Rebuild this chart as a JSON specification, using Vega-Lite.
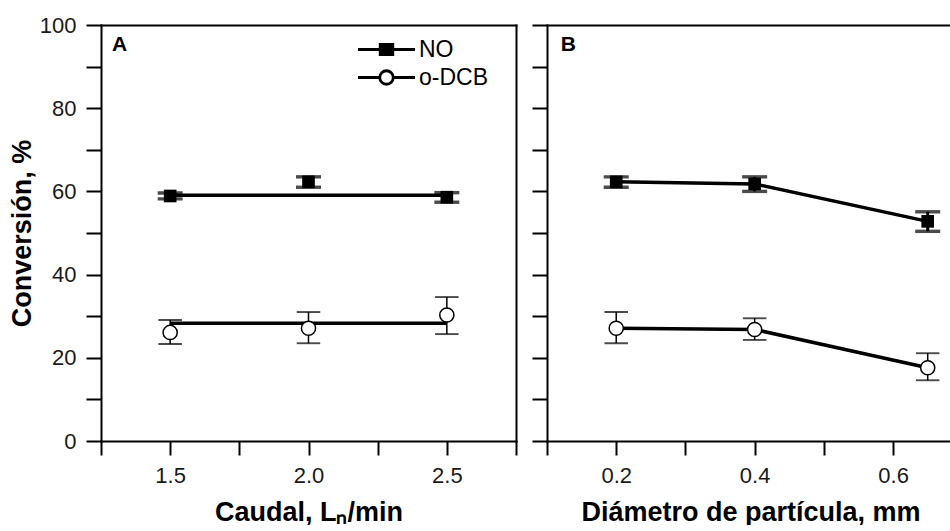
{
  "$schema": "https://vega.github.io/schema/vega-lite/v6.json",
  "padding": {"top": 14, "left": 8, "right": 0, "bottom": 0},
  "spacing": 14,
  "config": {
    "font": "Liberation Sans",
    "view": {"stroke": null},
    "axis": {
      "domainColor": "black", "domainWidth": 2, "domainCap": "square",
      "tickColor": "black", "tickWidth": 2,
      "labelColor": "#1a1a1a", "labelFont": "Liberation Sans", "labelFontSize": 22,
      "titleFont": "Liberation Sans", "titleFontSize": 27, "titleFontWeight": "bold", "titleColor": "black",
      "grid": false, "labelFlush": false, "labelOverlap": false, "labelBound": false
    }
  },
  "datasets": {
    "pts": [
      {"panel": "A", "series": "NO", "x": 1.5, "y": 58.9, "lo": 58.2, "hi": 59.6},
      {"panel": "A", "series": "NO", "x": 2.0, "y": 62.3, "lo": 61.0, "hi": 63.5},
      {"panel": "A", "series": "NO", "x": 2.5, "y": 58.6, "lo": 57.4, "hi": 59.7},
      {"panel": "A", "series": "o-DCB", "x": 1.5, "y": 26.1, "lo": 23.3, "hi": 29.1},
      {"panel": "A", "series": "o-DCB", "x": 2.0, "y": 27.1, "lo": 23.5, "hi": 31.0},
      {"panel": "A", "series": "o-DCB", "x": 2.5, "y": 30.3, "lo": 25.7, "hi": 34.6},
      {"panel": "B", "series": "NO", "x": 0.2, "y": 62.3, "lo": 61.0, "hi": 63.5},
      {"panel": "B", "series": "NO", "x": 0.4, "y": 61.8, "lo": 60.0, "hi": 63.5},
      {"panel": "B", "series": "NO", "x": 0.65, "y": 52.8, "lo": 50.4, "hi": 55.1},
      {"panel": "B", "series": "o-DCB", "x": 0.2, "y": 27.1, "lo": 23.5, "hi": 31.0},
      {"panel": "B", "series": "o-DCB", "x": 0.4, "y": 26.8, "lo": 24.3, "hi": 29.5},
      {"panel": "B", "series": "o-DCB", "x": 0.65, "y": 17.6, "lo": 14.6, "hi": 21.1}
    ],
    "lines": [
      {"panel": "A", "series": "NO", "x": 1.5, "y": 59.05},
      {"panel": "A", "series": "NO", "x": 2.5, "y": 59.05},
      {"panel": "A", "series": "o-DCB", "x": 1.5, "y": 28.3},
      {"panel": "A", "series": "o-DCB", "x": 2.5, "y": 28.3},
      {"panel": "B", "series": "NO", "x": 0.2, "y": 62.3},
      {"panel": "B", "series": "NO", "x": 0.4, "y": 61.8},
      {"panel": "B", "series": "NO", "x": 0.65, "y": 52.8},
      {"panel": "B", "series": "o-DCB", "x": 0.2, "y": 27.1},
      {"panel": "B", "series": "o-DCB", "x": 0.4, "y": 26.8},
      {"panel": "B", "series": "o-DCB", "x": 0.65, "y": 17.6}
    ]
  },
  "resolve": {"legend": {"shape": "independent", "fill": "independent"}},
  "hconcat": [
    {
      "width": 415,
      "height": 416,
      "resolve": {"axis": {"x": "independent", "y": "independent"}},
      "layer": [
        {
          "data": {"name": "lines"},
          "transform": [{"filter": "datum.panel == 'A'"}],
          "mark": {"type": "line", "color": "black", "strokeWidth": 3.5},
          "encoding": {
            "x": {"field": "x", "type": "quantitative", "scale": {"domain": [1.25, 2.75], "nice": false, "zero": false},
              "axis": {"orient": "bottom", "title": "Caudal, Lₙ/min", "values": [1.25, 1.5, 1.75, 2, 2.25, 2.5, 2.75], "format": ".1f",
                "labelExpr": "abs(datum.value*2-round(datum.value*2)) < 0.001 ? datum.label : ''",
                "tickSize": 14, "labelPadding": 10, "titlePadding": 13,
                "encode": {"ticks": {"update": {"y2": {"signal": "abs(datum.value*2-round(datum.value*2)) < 0.001 ? 14 : 7"}}}}}},
            "y": {"field": "y", "type": "quantitative", "scale": {"domain": [0, 100], "nice": false},
              "axis": {"orient": "left", "title": "Conversión, %", "values": [0, 10, 20, 30, 40, 50, 60, 70, 80, 90, 100],
                "labelExpr": "datum.value % 20 == 0 ? datum.label : ''",
                "tickSize": 15, "labelPadding": 10, "titlePadding": 3,
                "encode": {"ticks": {"update": {"x2": {"signal": "datum.value % 20 == 0 ? -15 : -8"}}}}}},
            "detail": {"field": "series"}
          }
        },
        {
          "data": {"name": "pts"},
          "transform": [{"filter": "datum.panel == 'A'"}],
          "mark": {"type": "rule", "color": "black"},
          "encoding": {
            "x": {"field": "x", "type": "quantitative", "scale": {"domain": [1.25, 2.75], "nice": false, "zero": false}, "axis": null},
            "y": {"field": "lo", "type": "quantitative", "scale": {"domain": [0, 100], "nice": false}, "axis": null},
            "y2": {"field": "hi"},
            "strokeWidth": {"field": "series", "type": "nominal", "scale": {"domain": ["NO", "o-DCB"], "range": [3, 1.5]}, "legend": null}
          }
        },
        {
          "data": {"name": "pts"},
          "transform": [{"filter": "datum.panel == 'A'"}],
          "mark": {"type": "tick", "orient": "horizontal", "size": 22, "thickness": 0.4, "color": "black", "stroke": "black"},
          "encoding": {
            "x": {"field": "x", "type": "quantitative", "scale": {"domain": [1.25, 2.75], "nice": false, "zero": false}, "axis": null},
            "y": {"field": "lo", "type": "quantitative", "scale": {"domain": [0, 100], "nice": false}, "axis": null},
            "strokeWidth": {"field": "series", "type": "nominal", "scale": {"domain": ["NO", "o-DCB"], "range": [3, 1.5]}, "legend": null}
          }
        },
        {
          "data": {"name": "pts"},
          "transform": [{"filter": "datum.panel == 'A'"}],
          "mark": {"type": "tick", "orient": "horizontal", "size": 22, "thickness": 0.4, "color": "black", "stroke": "black"},
          "encoding": {
            "x": {"field": "x", "type": "quantitative", "scale": {"domain": [1.25, 2.75], "nice": false, "zero": false}, "axis": null},
            "y": {"field": "hi", "type": "quantitative", "scale": {"domain": [0, 100], "nice": false}, "axis": null},
            "strokeWidth": {"field": "series", "type": "nominal", "scale": {"domain": ["NO", "o-DCB"], "range": [3, 1.5]}, "legend": null}
          }
        },
        {
          "data": {"name": "pts"},
          "transform": [{"filter": "datum.panel == 'A' && datum.series == 'NO'"}],
          "mark": {"type": "square", "size": 160, "color": "black", "opacity": 1},
          "encoding": {
            "x": {"field": "x", "type": "quantitative", "scale": {"domain": [1.25, 2.75], "nice": false, "zero": false}, "axis": null},
            "y": {"field": "y", "type": "quantitative", "scale": {"domain": [0, 100], "nice": false}, "axis": null}
          }
        },
        {
          "data": {"name": "pts"},
          "transform": [{"filter": "datum.panel == 'A' && datum.series == 'o-DCB'"}],
          "mark": {"type": "circle", "size": 200, "fill": "white", "stroke": "black", "strokeWidth": 1.5, "opacity": 1},
          "encoding": {
            "x": {"field": "x", "type": "quantitative", "scale": {"domain": [1.25, 2.75], "nice": false, "zero": false}, "axis": null},
            "y": {"field": "y", "type": "quantitative", "scale": {"domain": [0, 100], "nice": false}, "axis": null}
          }
        },
        {
          "data": {"name": "pts"},
          "transform": [{"filter": "datum.panel == 'A'"}],
          "mark": {"type": "point", "filled": true, "size": 400, "opacity": 0, "stroke": "black", "strokeWidth": 2.5},
          "encoding": {
            "x": {"field": "x", "type": "quantitative", "scale": {"domain": [1.25, 2.75], "nice": false, "zero": false},
              "axis": {"orient": "top", "labels": false, "ticks": false, "title": null, "domain": true}},
            "y": {"field": "y", "type": "quantitative", "scale": {"domain": [0, 100], "nice": false},
              "axis": {"orient": "right", "labels": false, "ticks": false, "title": null, "domain": true}},
            "shape": {"field": "series", "type": "nominal",
              "scale": {"domain": ["NO", "o-DCB"], "range": ["M-2.85,0H2.85M-0.63,-0.52H0.63V0.52H-0.63Z", "M-2.85,0H-0.675M0.675,0H2.85M0.675,0A0.675,0.675,0,1,1,-0.675,0A0.675,0.675,0,1,1,0.675,0Z"]},
              "legend": {"title": null, "orient": "none", "legendX": 274, "legendY": 13, "labelFontSize": 23, "labelFont": "Liberation Sans", "labelColor": "black",
                "symbolSize": 400, "symbolStrokeWidth": 2.5, "symbolStrokeColor": "black", "symbolOpacity": 1, "labelOffset": 21, "rowPadding": 3, "padding": 0,
                "encode": {"symbols": {"update": {"stroke": {"value": "black"}, "strokeWidth": {"value": 2.8}, "opacity": {"value": 1}}}}}},
            "fill": {"field": "series", "type": "nominal",
              "scale": {"domain": ["NO", "o-DCB"], "range": ["black", "white"]},
              "legend": {"title": null, "orient": "none", "legendX": 274, "legendY": 13, "labelFontSize": 23, "labelFont": "Liberation Sans", "labelColor": "black",
                "symbolSize": 400, "symbolStrokeWidth": 2.5, "symbolStrokeColor": "black", "symbolOpacity": 1, "labelOffset": 21, "rowPadding": 3, "padding": 0,
                "encode": {"symbols": {"update": {"stroke": {"value": "black"}, "strokeWidth": {"value": 2.8}, "opacity": {"value": 1}}}}}}
          }
        },
        {
          "data": {"values": [{"t": "A"}]},
          "mark": {"type": "text", "fontSize": 21, "fontWeight": "bold", "align": "left", "baseline": "middle", "color": "black"},
          "encoding": {
            "x": {"datum": 1.29, "type": "quantitative", "scale": {"domain": [1.25, 2.75], "nice": false, "zero": false}, "axis": null},
            "y": {"datum": 95.3, "type": "quantitative", "scale": {"domain": [0, 100], "nice": false}, "axis": null},
            "text": {"field": "t"}
          }
        }
      ]
    },
    {
      "width": 407,
      "height": 416,
      "resolve": {"axis": {"x": "independent", "y": "independent"}},
      "layer": [
        {
          "data": {"name": "lines"},
          "transform": [{"filter": "datum.panel == 'B'"}],
          "mark": {"type": "line", "color": "black", "strokeWidth": 3.5},
          "encoding": {
            "x": {"field": "x", "type": "quantitative", "scale": {"domain": [0.1, 0.688], "nice": false, "zero": false},
              "axis": {"orient": "bottom", "title": "Diámetro de partícula, mm", "values": [0.1, 0.2, 0.3, 0.4, 0.5, 0.6], "format": ".1f",
                "labelExpr": "round(datum.value*10) % 2 == 0 ? datum.label : ''",
                "tickSize": 14, "labelPadding": 10, "titlePadding": 13,
                "encode": {"ticks": {"update": {"y2": {"signal": "round(datum.value*10) % 2 == 0 ? 14 : 7"}}}}}},
            "y": {"field": "y", "type": "quantitative", "scale": {"domain": [0, 100], "nice": false},
              "axis": {"orient": "left", "title": null, "labels": false, "values": [0, 10, 20, 30, 40, 50, 60, 70, 80, 90, 100],
                "tickSize": 15,
                "encode": {"ticks": {"update": {"x2": {"signal": "datum.value % 20 == 0 ? -15 : -8"}}}}}},
            "detail": {"field": "series"}
          }
        },
        {
          "data": {"name": "pts"},
          "transform": [{"filter": "datum.panel == 'B'"}],
          "mark": {"type": "rule", "color": "black"},
          "encoding": {
            "x": {"field": "x", "type": "quantitative", "scale": {"domain": [0.1, 0.688], "nice": false, "zero": false}, "axis": null},
            "y": {"field": "lo", "type": "quantitative", "scale": {"domain": [0, 100], "nice": false}, "axis": null},
            "y2": {"field": "hi"},
            "strokeWidth": {"field": "series", "type": "nominal", "scale": {"domain": ["NO", "o-DCB"], "range": [3, 1.5]}, "legend": null}
          }
        },
        {
          "data": {"name": "pts"},
          "transform": [{"filter": "datum.panel == 'B'"}],
          "mark": {"type": "tick", "orient": "horizontal", "size": 22, "thickness": 0.4, "color": "black", "stroke": "black"},
          "encoding": {
            "x": {"field": "x", "type": "quantitative", "scale": {"domain": [0.1, 0.688], "nice": false, "zero": false}, "axis": null},
            "y": {"field": "lo", "type": "quantitative", "scale": {"domain": [0, 100], "nice": false}, "axis": null},
            "strokeWidth": {"field": "series", "type": "nominal", "scale": {"domain": ["NO", "o-DCB"], "range": [3, 1.5]}, "legend": null}
          }
        },
        {
          "data": {"name": "pts"},
          "transform": [{"filter": "datum.panel == 'B'"}],
          "mark": {"type": "tick", "orient": "horizontal", "size": 22, "thickness": 0.4, "color": "black", "stroke": "black"},
          "encoding": {
            "x": {"field": "x", "type": "quantitative", "scale": {"domain": [0.1, 0.688], "nice": false, "zero": false}, "axis": null},
            "y": {"field": "hi", "type": "quantitative", "scale": {"domain": [0, 100], "nice": false}, "axis": null},
            "strokeWidth": {"field": "series", "type": "nominal", "scale": {"domain": ["NO", "o-DCB"], "range": [3, 1.5]}, "legend": null}
          }
        },
        {
          "data": {"name": "pts"},
          "transform": [{"filter": "datum.panel == 'B' && datum.series == 'NO'"}],
          "mark": {"type": "square", "size": 160, "color": "black", "opacity": 1},
          "encoding": {
            "x": {"field": "x", "type": "quantitative", "scale": {"domain": [0.1, 0.688], "nice": false, "zero": false}, "axis": null},
            "y": {"field": "y", "type": "quantitative", "scale": {"domain": [0, 100], "nice": false}, "axis": null}
          }
        },
        {
          "data": {"name": "pts"},
          "transform": [{"filter": "datum.panel == 'B' && datum.series == 'o-DCB'"}],
          "mark": {"type": "circle", "size": 200, "fill": "white", "stroke": "black", "strokeWidth": 1.5, "opacity": 1},
          "encoding": {
            "x": {"field": "x", "type": "quantitative", "scale": {"domain": [0.1, 0.688], "nice": false, "zero": false}, "axis": null},
            "y": {"field": "y", "type": "quantitative", "scale": {"domain": [0, 100], "nice": false}, "axis": null}
          }
        },
        {
          "data": {"name": "pts"},
          "transform": [{"filter": "datum.panel == 'B'"}],
          "mark": {"type": "point", "opacity": 0},
          "encoding": {
            "x": {"field": "x", "type": "quantitative", "scale": {"domain": [0.1, 0.688], "nice": false, "zero": false},
              "axis": {"orient": "top", "labels": false, "ticks": false, "title": null, "domain": true}},
            "y": {"field": "y", "type": "quantitative", "scale": {"domain": [0, 100], "nice": false}, "axis": null}
          }
        },
        {
          "data": {"values": [{"t": "B"}]},
          "mark": {"type": "text", "fontSize": 21, "fontWeight": "bold", "align": "left", "baseline": "middle", "color": "black"},
          "encoding": {
            "x": {"datum": 0.12, "type": "quantitative", "scale": {"domain": [0.1, 0.688], "nice": false, "zero": false}, "axis": null},
            "y": {"datum": 95.3, "type": "quantitative", "scale": {"domain": [0, 100], "nice": false}, "axis": null},
            "text": {"field": "t"}
          }
        }
      ]
    }
  ]
}
